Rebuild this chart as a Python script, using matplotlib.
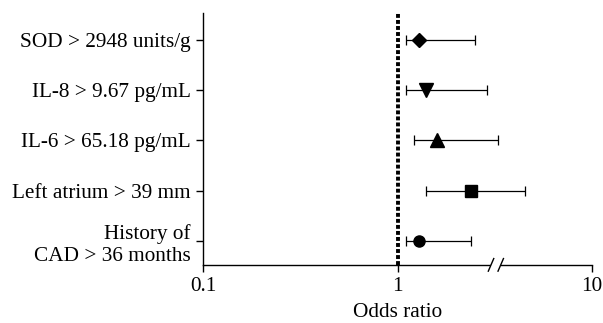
import numpy as np
import matplotlib
matplotlib.use('Agg')
import matplotlib.pyplot as plt

plt.rcParams['font.family'] = ['Liberation Serif', 'DejaVu Serif']
plt.rcParams['font.size'] = 15.3

labels = ['SOD > 2948 units/g', 'IL-8 > 9.67 pg/mL', 'IL-6 > 65.18 pg/mL',
          'Left atrium > 39 mm', 'History of\nCAD > 36 months']
odds = [1.29, 1.40, 1.59, 2.38, 1.29]
lower = [1.11, 1.11, 1.21, 1.40, 1.11]
upper = [2.49, 2.89, 3.27, 4.51, 2.38]
markers = ['D', 'v', '^', 's', 'o']
msizes = [7, 10, 10, 9, 8]

fig = plt.figure(figsize=(6.03, 3.23), dpi=100)
ax = fig.add_axes([0.337, 0.180, 0.645, 0.780])

ypos = np.arange(len(labels))[::-1] + 1
for y, o, lo, hi, m, ms in zip(ypos, odds, lower, upper, markers, msizes):
    ax.errorbar(o, y, xerr=[[o - lo], [hi - o]], fmt='none', ecolor='black',
                elinewidth=0.9, capsize=3.8, capthick=0.9, zorder=2)
    ax.plot(o, y, marker=m, ms=ms, color='black', ls='none', zorder=3)

# reference line at OR = 1
ax.axvline(1, color='black', lw=2.8, ls=(0, (1.0, 0.55)), zorder=1)

ax.set_xscale('log')
ax.set_xlim(0.1, 10)
ax.set_ylim(0.52, 5.54)
ax.set_xticks([0.1, 1, 10])
ax.set_xticklabels(['0.1', '1', '10'])
ax.xaxis.set_minor_locator(matplotlib.ticker.NullLocator())
ax.set_yticks(ypos)
ax.set_yticklabels(labels)
ax.tick_params(axis='both', length=5, width=1, direction='out', pad=4)
ax.tick_params(axis='y', pad=4)
ax.set_xlabel('Odds ratio', labelpad=5)
for s in ['top', 'right']:
    ax.spines[s].set_visible(False)
for s in ['left', 'bottom']:
    ax.spines[s].set_linewidth(1)

# axis break mark
bx0, bx1 = 0.74, 0.765
ax.add_patch(plt.Rectangle((bx0, -0.01), bx1 - bx0, 0.02, transform=ax.transAxes,
                           facecolor='white', edgecolor='none', clip_on=False, zorder=5))
for bx in (bx0, bx1):
    ax.plot([bx - 0.007, bx + 0.007], [-0.025, 0.025], transform=ax.transAxes,
            color='black', lw=1, clip_on=False, zorder=6)

fig.savefig('out.png', dpi=100, facecolor='white')
